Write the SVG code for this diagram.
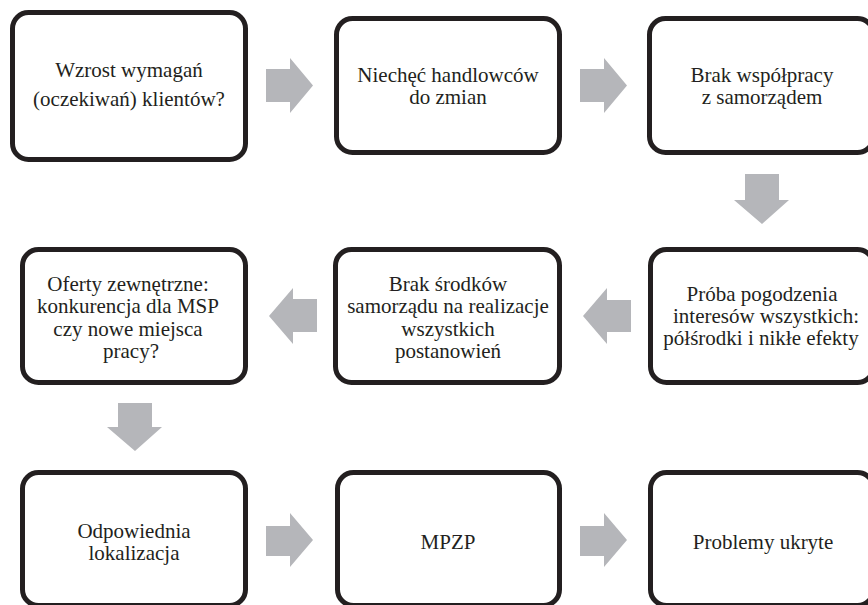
<svg xmlns="http://www.w3.org/2000/svg" width="868" height="605" viewBox="0 0 868 605">
<style>
.box{fill:#fff;stroke:#231f20;stroke-width:5}
.t{font-family:"Liberation Serif","Times New Roman","DejaVu Serif",serif;font-size:21px;fill:#231f20;text-anchor:middle}
.arr{fill:#b5b6ba}
</style>
<rect width="868" height="605" fill="#fff"/>
<g id="connectors">
<polygon class="arr" points="266,69 290,69 290,58 313,85.5 290,113 290,102 266,102"/>
<polygon class="arr" points="580,69 604,69 604,58 627,85.5 604,113 604,102 580,102"/>
<polygon class="arr" points="745,174 779,174 779,200 789,200 762,224 734,200 745,200"/>
<polygon class="arr" points="631,300 607,300 607,288 583,316 607,344 607,332 631,332"/>
<polygon class="arr" points="317,299 293,299 293,288 269,316 293,344 293,332 317,332"/>
<polygon class="arr" points="118,403 152,403 152,427 162,427 135,451 107,427 118,427"/>
<polygon class="arr" points="266,526 290,526 290,513 313,540 290,567 290,556 266,556"/>
<polygon class="arr" points="580,526 604,526 604,513 627,540 604,567 604,556 580,556"/>
</g>
<g id="n1">
<rect class="box" x="12.5" y="12.5" width="233" height="147" rx="16"/>
<text class="t" x="129" y="77">Wzrost wymagań</text>
<text class="t" x="129" y="106">(oczekiwań) klientów?</text>
</g>
<g id="n2">
<rect class="box" x="336.5" y="18.5" width="223" height="134" rx="16"/>
<text class="t" x="448" y="81.5">Niechęć handlowców</text>
<text class="t" x="448" y="103.5">do zmian</text>
</g>
<g id="n3">
<rect class="box" x="649.5" y="18.5" width="224" height="134" rx="16"/>
<text class="t" x="762" y="81.5">Brak współpracy</text>
<text class="t" x="762" y="103.5">z samorządem</text>
</g>
<g id="n4">
<rect class="box" x="650.5" y="249.5" width="223" height="133" rx="16"/>
<text class="t" x="762" y="301">Próba pogodzenia</text>
<text class="t" x="766" y="323">interesów wszystkich:</text>
<text class="t" x="761" y="345">półśrodki i nikłe efekty</text>
</g>
<g id="n5">
<rect class="box" x="335.5" y="249.5" width="224" height="133" rx="16"/>
<text class="t" x="448" y="291">Brak środków</text>
<text class="t" x="448" y="313">samorządu na realizacje</text>
<text class="t" x="448" y="336">wszystkich</text>
<text class="t" x="448" y="358">postanowień</text>
</g>
<g id="n6">
<rect class="box" x="22.5" y="249.5" width="223" height="133" rx="16"/>
<text class="t" x="128" y="291">Oferty zewnętrzne:</text>
<text class="t" x="128" y="313">konkurencja dla MSP</text>
<text class="t" x="128" y="336">czy nowe miejsca</text>
<text class="t" x="131" y="358">pracy?</text>
</g>
<g id="n7">
<rect class="box" x="22.5" y="472.5" width="223" height="133" rx="16"/>
<text class="t" x="134" y="537.5">Odpowiednia</text>
<text class="t" x="134" y="559.5">lokalizacja</text>
</g>
<g id="n8">
<rect class="box" x="337.5" y="472.5" width="222" height="133" rx="16"/>
<text class="t" x="448" y="549">MPZP</text>
</g>
<g id="n9">
<rect class="box" x="650.5" y="472.5" width="223" height="133" rx="16"/>
<text class="t" x="763" y="549">Problemy ukryte</text>
</g>
</svg>
